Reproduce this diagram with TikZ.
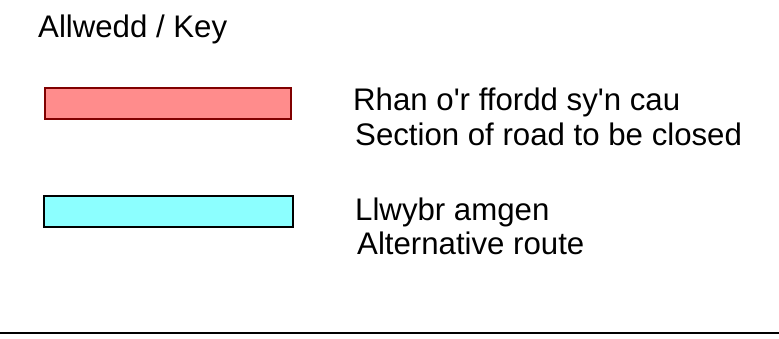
\documentclass[tikz,border=0pt]{standalone}
\usepackage{fontspec}
\newfontfamily\keyfont{Liberation Sans}
\begin{document}
\begin{tikzpicture}[x=1pt,y=-1pt,
  lbl/.style={anchor=base west,inner sep=0pt,font=\keyfont\fontsize{31.2}{36}\selectfont},
  keybox/.style={line width=1.3pt}]
\useasboundingbox (0,0) rectangle (779,338);
\node[lbl] (title) at (38,37) {Allwedd / Key};
\draw[keybox,fill={rgb,255:red,255;green,140;blue,140},draw={rgb,255:red,128;green,0;blue,0}] (45,88) rectangle (291,119);
\node[lbl] (closedcy) at (353,110) {Rhan o'r ffordd sy'n cau};
\node[lbl] (closeden) at (355,145) {Section of road to be closed};
\draw[keybox,fill={rgb,255:red,140;green,255;blue,255},draw=black] (44,196) rectangle (293,227);
\node[lbl] (altcy) at (355,220) {Llwybr amgen};
\node[lbl] (alten) at (357,254) {Alternative route};
\coordinate (lineL) at (0,333);
\coordinate (lineR) at (779,333);
\draw[line width=1.6pt] (lineL) -- (lineR);
\end{tikzpicture}
\end{document}
